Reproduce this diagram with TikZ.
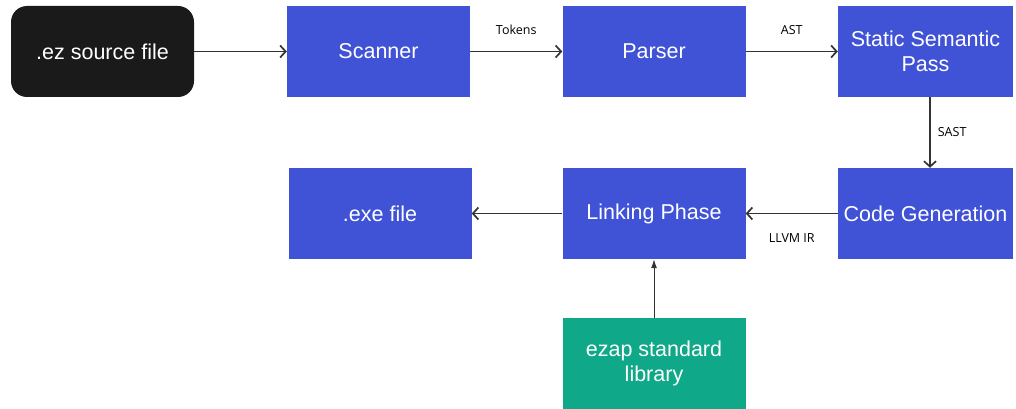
\documentclass[tikz,border=0pt]{standalone}
\usepackage{fontspec}
\setmainfont{Liberation Sans}
\newfontfamily\labelfont{Open Sans}
\usetikzlibrary{arrows.meta}
\definecolor{stageblue}{HTML}{4052D6}
\definecolor{libgreen}{HTML}{0FA888}
\definecolor{srcblack}{HTML}{1A1A1A}
\definecolor{wire}{HTML}{333333}
\tikzset{
  stagebox/.style={fill=stageblue, text=white, draw=none, minimum width=183pt,
    minimum height=91pt, inner sep=2pt, align=center,
    font=\fontsize{21.5}{25}\selectfont},
  srcbox/.style={stagebox, fill=srcblack, rounded corners=16pt},
  libbox/.style={stagebox, fill=libgreen},
  flow/.style={draw=wire, line width=1.7pt, -{Straight Barb[length=5.5pt,width=12pt,line width=1.7pt]}},
  feed/.style={draw=wire, line width=1pt, -{Latex[length=9pt,width=6pt]}},
  lbl/.style={font=\labelfont\fontsize{12.5}{15}\selectfont, text=black, inner sep=1pt}
}
\begin{document}
\begin{tikzpicture}[x=1pt, y=-1pt]
  \useasboundingbox (0,0) rectangle (1016,409);
  % top row
  \node[srcbox]   (src)    at (102.5,51.5)  {.ez source file};
  \node[stagebox] (scan)   at (378.5,51.5)  {Scanner};
  \node[stagebox] (parse)  at (654,51.5)    {Parser};
  \node[stagebox, minimum width=175pt] (sem) at (925.5,51.5) {Static Semantic\\Pass};
  % bottom row
  \node[stagebox, minimum width=175pt] (gen) at (925.5,213.5) {Code Generation};
  \node[stagebox] (link)   at (654,213.5)   {Linking Phase};
  \node[stagebox] (exe)    at (380,213.5)   {.exe file};
  \node[libbox]   (lib)    at (654,363.5)   {ezap standard\\library};
  % connectors
  \draw[flow] (src) -- (scan);
  \draw[flow] (scan) -- node[lbl, above=15pt] {Tokens} (parse);
  \draw[flow] (parse) -- node[lbl, above=15pt] {AST} (sem);
  \draw[flow] (sem.south -| 930,0) -- node[lbl, right=6pt] {SAST} (gen.north -| 930,0);
  \draw[flow] (gen) -- node[lbl, below=18pt] {LLVM IR} (link);
  \draw[flow] (link) -- (exe);
  \draw[feed] (lib) -- (link);
\end{tikzpicture}
\end{document}
